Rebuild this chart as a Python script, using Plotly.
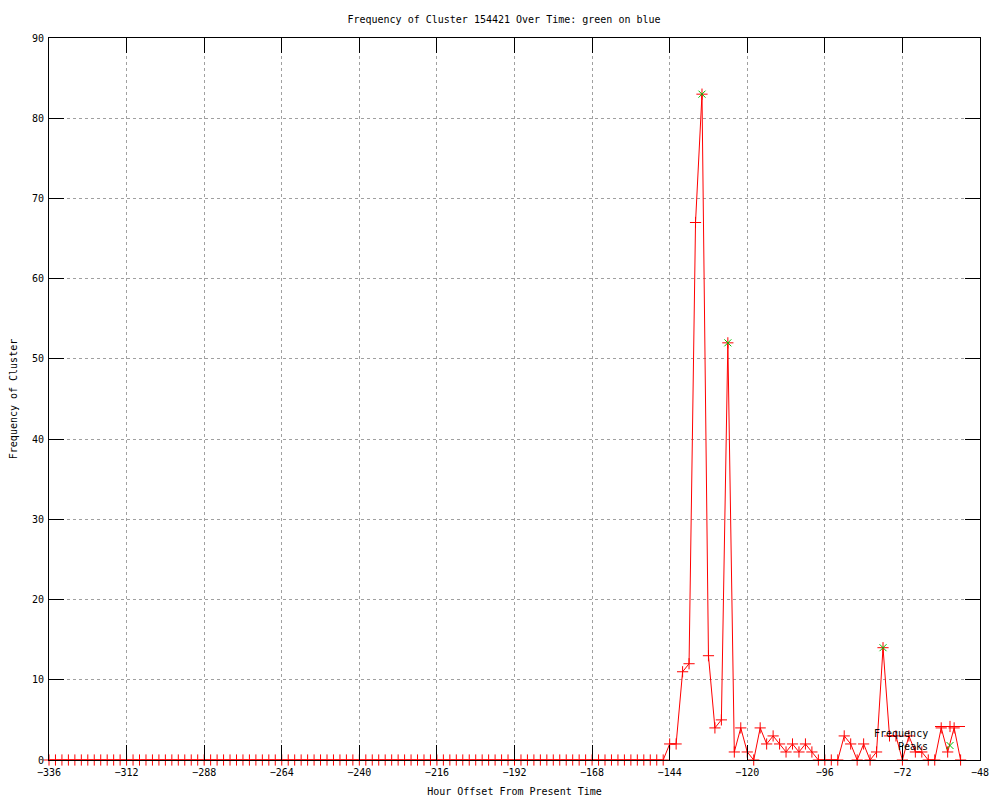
"""
Frequency of a cluster over time, gnuplot look-alike
"""
import plotly.graph_objects as go

# hour offsets, every 2 hours from -336 to -54
hours = list(range(-336, -52, 2))

# frequency per hour slot (zeros until -146)
frequency = [0] * 96 + [
    2, 2, 11, 12, 67, 83, 13, 4, 5, 52,
    1, 4, 1, 0, 4, 2, 3, 2, 1, 2,
    1, 2, 1, 0, 0, 0, 0, 3, 2, 0,
    2, 0, 1, 14, 3, 3, 0, 3, 1, 1,
    0, 0, 4, 1, 4, 0,
]

peak_hours = [-134, -126, -78]
peak_values = [83, 52, 14]

x_ticks = list(range(-336, -47, 24))
y_ticks = list(range(0, 91, 10))

legend_labels = ['Frequency', 'Peaks']

FONT = "DejaVu Sans Mono"
TXT = dict(family=FONT, size=10, color='black')

# page has an 8px body margin, so the figure is 992x792 placed at (8, 8)
W, H = 992, 792
PL, PR, PT, PB = 41, 20, 30, 40
PW, PH = W - PL - PR, H - PT - PB

fig = go.Figure()
fig.add_trace(go.Scatter(
    x=hours,
    y=frequency,
    mode='lines+markers',
    name='',
    line=dict(color='red', width=1),
    marker=dict(symbol='cross-thin', size=8, line=dict(color='red', width=1)),
    cliponaxis=False,
))
fig.add_trace(go.Scatter(
    x=peak_hours,
    y=peak_values,
    mode='markers',
    name='',
    marker=dict(symbol='x-thin', size=7, line=dict(color='#00c000', width=1)),
    cliponaxis=False,
))

axis_common = dict(
    showline=True,
    linecolor='black',
    linewidth=1,
    mirror='ticks',
    ticks='inside',
    ticklen=15,
    tickcolor='black',
    tickwidth=1,
    showgrid=True,
    gridcolor='#a0a0a0',
    griddash='dot',
    gridwidth=1,
    zeroline=False,
    tickfont=TXT,
    layer='above traces',
    automargin=False,
)

# legend texts sit to the left of the samples, gnuplot style
for i, label in enumerate(legend_labels):
    fig.add_annotation(
        text=label, xref='paper', yref='paper',
        x=(930 - 49) / PW, y=(760 - 733 - 13.5 * i) / PH,
        xanchor='right', yanchor='middle', showarrow=False,
        font=TXT,
    )

fig.update_layout(
    width=W,
    height=H,
    paper_bgcolor='white',
    plot_bgcolor='white',
    margin=dict(l=PL, r=PR, t=PT, b=PB),
    title=dict(
        text='Frequency of Cluster 154421 Over Time: green on blue',
        x=0.5, xanchor='center',
        y=1 - 11 / H, yanchor='middle',
        font=TXT,
    ),
    xaxis=dict(
        axis_common,
        range=[-336, -48],
        tickvals=x_ticks,
        ticklabelstandoff=3,
        title=dict(text='Hour Offset From Present Time', standoff=10, font=TXT),
    ),
    yaxis=dict(
        axis_common,
        range=[0, 90],
        tickvals=y_ticks,
        ticklabelstandoff=2,
        title=dict(text='Frequency of Cluster', standoff=14, font=TXT),
    ),
    legend=dict(
        x=(975 - 49) / PW, y=0.0, xanchor='right', yanchor='bottom',
        bgcolor='rgba(0,0,0,0)',
        font=TXT,
        tracegroupgap=0,
        itemwidth=30,
    ),
    showlegend=True,
)

fig.write_html("out.html")
